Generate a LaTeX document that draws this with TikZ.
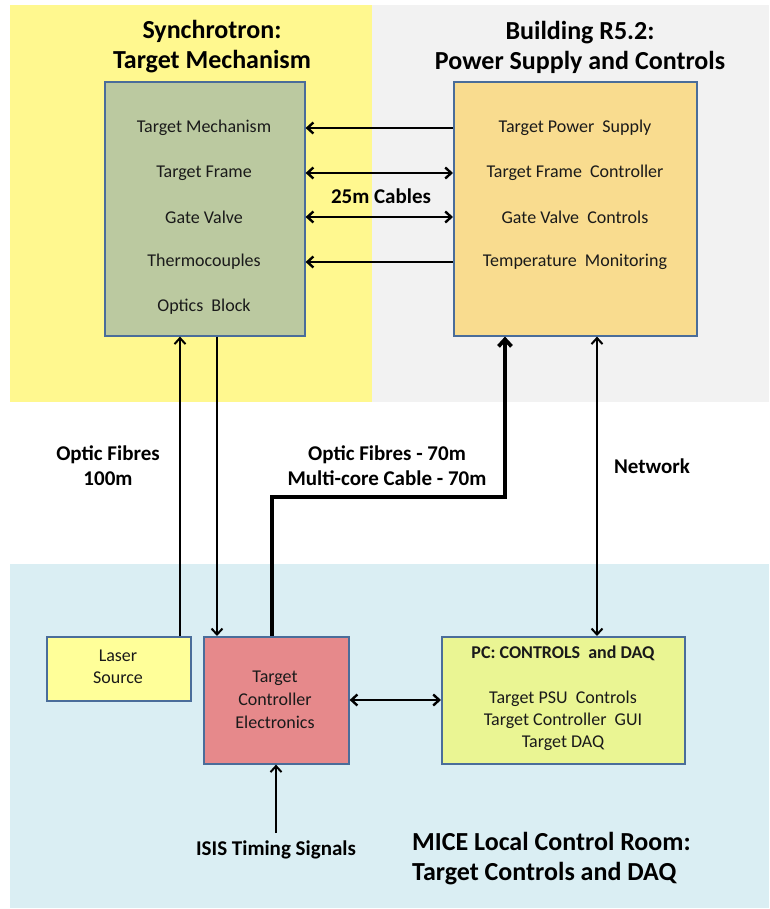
\documentclass[tikz,border=0pt]{standalone}
\usepackage{fontspec}
\setmainfont{Carlito}
\usetikzlibrary{arrows.meta}
\definecolor{bgyellow}{HTML}{FFF88F}
\definecolor{bggrey}{HTML}{F2F2F2}
\definecolor{bgblue}{HTML}{DAEEF3}
\definecolor{greenbox}{HTML}{BBC9A0}
\definecolor{orangebox}{HTML}{F9DC8F}
\definecolor{laserbox}{HTML}{FFFF99}
\definecolor{redbox}{HTML}{E6898B}
\definecolor{pcbox}{HTML}{EAF593}
\definecolor{boxline}{HTML}{4A6D9A}
\definecolor{txt}{HTML}{1A1A1A}
\tikzset{barb/.tip={Straight Barb[length=6pt,width=11pt]},
  bigbarb/.tip={Straight Barb[length=7pt,width=13pt]}}
\begin{document}
\begin{tikzpicture}[x=1pt,y=-1pt,
  box/.style={draw=boxline,line width=1.6pt,inner sep=0pt,anchor=north west},
  body/.style={font=\fontsize{18}{20}\selectfont,text=txt,inner sep=0pt},
  lab/.style={font=\bfseries\fontsize{21}{25}\selectfont,text=black,align=center,inner sep=0pt},
  title/.style={font=\bfseries\fontsize{26}{30}\selectfont,text=black,align=center,inner sep=0pt},
  harrow/.style={line width=2.4pt},
  varrow/.style={line width=2pt},
  thickarrow/.style={line width=3.8pt}]
\useasboundingbox (0,0) rectangle (769,909);
% backgrounds
\fill[bgyellow] (10,5) rectangle (372,402);
\fill[bggrey] (372,5) rectangle (769,402);
\fill[bgblue] (10,564) rectangle (769,908);
% titles
\node[title] (t1) at (212,47) {Synchrotron:\\Target Mechanism};
\node[title] (t2) at (580,47) {Building R5.2:\\Power Supply and Controls};
% boxes
\node[box,fill=greenbox,minimum width=200pt,minimum height=254pt] (green) at (104,81) {};
\node[box,fill=orangebox,minimum width=243pt,minimum height=254pt] (orange) at (453,81) {};
\node[box,fill=laserbox,minimum width=144pt,minimum height=64pt] (laser) at (46,636) {};
\node[box,fill=redbox,minimum width=145pt,minimum height=127pt] (tce) at (203,636) {};
\node[box,fill=pcbox,minimum width=243pt,minimum height=127pt] (pc) at (441,636) {};
% green box rows
\node[body] (g1) at (204,128) {Target Mechanism};
\node[body] (g2) at (204,173) {Target Frame};
\node[body] (g3) at (204,217) {Gate Valve};
\node[body] (g4) at (204,262) {Thermocouples};
\node[body] (g5) at (204,307) {Optics\ \ Block};
% orange box rows
\node[body] (o1) at (575,128) {Target Power\ \ Supply};
\node[body] (o2) at (575,173) {Target Frame\ \ Controller};
\node[body] (o3) at (575,217) {Gate Valve\ \ Controls};
\node[body] (o4) at (575,262) {Temperature\ \ Monitoring};
% lower box texts
\node[body,align=center,font=\fontsize{18}{22}\selectfont] (ltxt) at (118,667) {Laser\\Source};
\node[body,align=center,font=\fontsize{18}{23}\selectfont] (ttxt) at (275,700) {Target\\Controller\\Electronics};
\node[body,font=\bfseries\fontsize{18}{20}\selectfont] (pct) at (563,653) {PC: CONTROLS\ \ and DAQ};
\node[body,align=center,font=\fontsize{18}{22}\selectfont] (pcl) at (563,721) {Target PSU\ \ Controls\\Target Controller\ \ GUI\\Target DAQ};
% horizontal arrows
\draw[harrow,-{barb}] (orange.west |- g1) -- (green.east |- g1);
\draw[harrow,{barb}-{barb}] (green.east |- g2) -- (orange.west |- g2);
\draw[harrow,{barb}-{barb}] (green.east |- g3) -- (orange.west |- g3);
\draw[harrow,-{barb}] (orange.west |- g4) -- (green.east |- g4);
\node[lab] (cab) at (381,196) {25m Cables};
% vertical connectors
\coordinate (x180) at (180,0);
\coordinate (x217) at (217,0);
\coordinate (x272) at (272,0);
\coordinate (x505) at (505,0);
\coordinate (x597) at (597,0);
\coordinate (y497) at (0,497);
\coordinate (y700) at (0,700);
\draw[varrow,-{barb}] (laser.north -| x180) -- (green.south -| x180);
\draw[varrow,-{barb}] (green.south -| x217) -- (tce.north -| x217);
\draw[thickarrow,-{bigbarb},line join=miter] (tce.north -| x272) -- (x272 |- y497) -- (x505 |- y497) -- (orange.south -| x505);
\draw[varrow,{barb}-{barb}] (orange.south -| x597) -- (pc.north -| x597);
\draw[harrow,{barb}-{barb}] (tce.east |- y700) -- (pc.west |- y700);
\coordinate (isis) at (276,833);
\draw[varrow,-{barb}] (isis) -- (tce.south -| isis);
% labels
\node[lab] (of1) at (108,466) {Optic Fibres\\100m};
\node[lab] (of2) at (387,466) {Optic Fibres - 70m\\Multi-core Cable - 70m};
\node[lab] (net) at (652,466) {Network};
\node[lab] (isisl) at (276,850) {ISIS Timing Signals};
\node[title,align=left,anchor=west] (mice) at (412,859) {MICE Local Control Room:\\Target Controls and DAQ};
\end{tikzpicture}
\end{document}
